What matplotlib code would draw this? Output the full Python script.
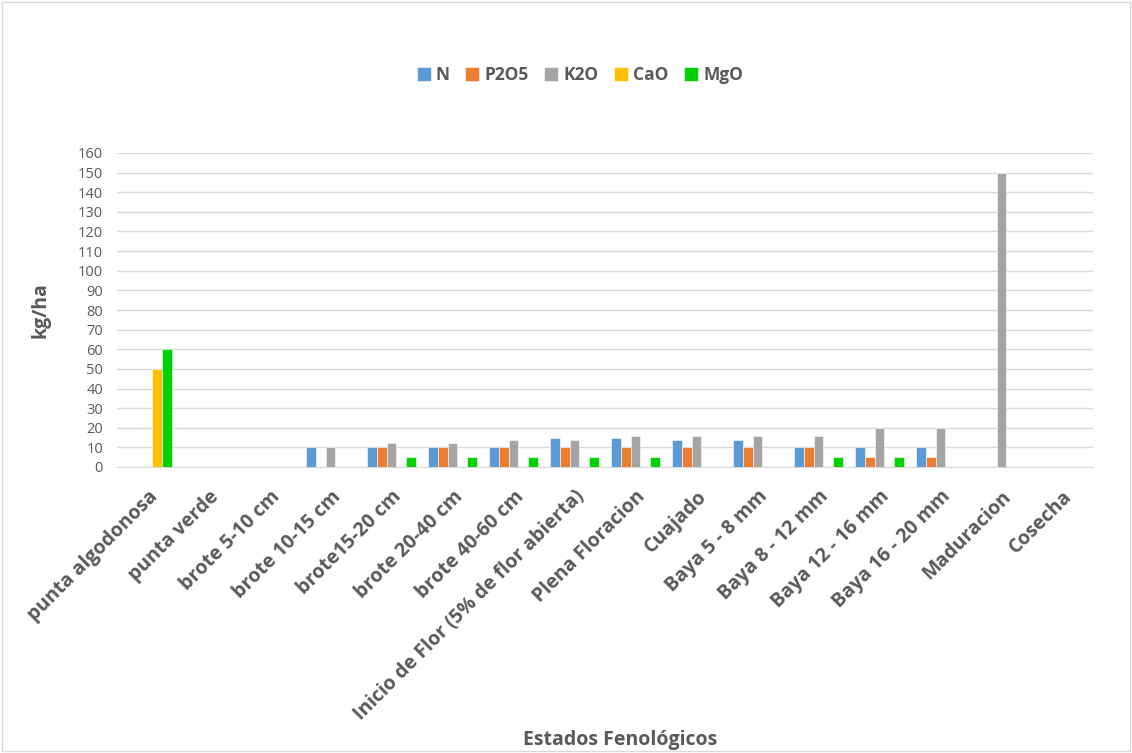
import numpy as np
import matplotlib.pyplot as plt
from matplotlib.patches import Rectangle

### data
categories = ['punta algodonosa', 'punta verde', 'brote 5-10 cm', 'brote 10-15 cm',
              'brote15-20 cm', 'brote 20-40 cm', 'brote 40-60 cm',
              'Inicio de Flor (5% de flor abierta)', 'Plena Floracion', 'Cuajado',
              'Baya 5 - 8 mm', 'Baya 8 - 12 mm', 'Baya 12 - 16 mm', 'Baya 16 - 20 mm',
              'Maduracion', 'Cosecha']
n_vals   = [0, 0, 0, 10, 10, 10, 10, 15, 15, 14, 14, 10, 10, 10, 0, 0]
p2o5_vals = [0, 0, 0, 0, 10, 10, 10, 10, 10, 10, 10, 10, 5, 5, 0, 0]
k2o_vals = [0, 0, 0, 10, 12, 12, 14, 14, 16, 16, 16, 16, 20, 20, 150, 0]
cao_vals = [50, 0, 0, 0, 0, 0, 0, 0, 0, 0, 0, 0, 0, 0, 0, 0]
mgo_vals = [60, 0, 0, 0, 5, 5, 5, 5, 5, 0, 0, 5, 5, 0, 0, 0]

series = [('N', n_vals, '#5b9bd5'),
          ('P2O5', p2o5_vals, '#ed7d31'),
          ('K2O', k2o_vals, '#a5a5a5'),
          ('CaO', cao_vals, '#ffc000'),
          ('MgO', mgo_vals, '#00d200')]

plt.rcParams['font.family'] = ['Open Sans', 'DejaVu Sans']
txtcol = '#595959'

fig = plt.figure(figsize=(11.32, 7.53), dpi=100)
ax = fig.add_axes([117 / 1132, 1 - 467 / 753, (1093 - 117) / 1132, (467 - 153) / 753])

### bars
x = np.arange(len(categories))
w = 0.158
for i, (name, vals, col) in enumerate(series):
    ax.bar(x + (i - 2) * w, vals, w, color=col, label=name,
           edgecolor='white', linewidth=0.4, zorder=3)

ax.set_xlim(-0.5, len(categories) - 0.5)
ax.set_ylim(0, 160)
ax.set_yticks(range(0, 161, 10))
ax.grid(axis='y', color='#d9d9d9', linewidth=1, zorder=0)
for s in ['top', 'right', 'left']:
    ax.spines[s].set_visible(False)
ax.spines['bottom'].set_color('#d9d9d9')
ax.tick_params(axis='both', length=0, colors=txtcol)
ax.tick_params(axis='y', labelsize=10.5, pad=10)
ax.set_xticks(x)
ax.set_xticklabels(categories, rotation=45, ha='right', rotation_mode='anchor',
                   fontsize=14, fontweight='bold', color=txtcol)
ax.tick_params(axis='x', pad=14)

ax.set_ylabel('kg/ha', fontsize=14, fontweight='bold', color=txtcol, labelpad=20)
fig.text(620 / 1132, 1 - 740 / 753, 'Estados Fenológicos', ha='center', va='center',
         fontsize=14, fontweight='bold', color=txtcol)

leg = fig.legend(loc='center', bbox_to_anchor=(580 / 1132, 1 - 75 / 753), ncol=5,
                 frameon=False, fontsize=12.5, handlelength=0.8, handleheight=0.8,
                 handletextpad=0.3, columnspacing=0.9)
for t in leg.get_texts():
    t.set_color(txtcol)
    t.set_fontweight('bold')

### outer border
fig.patches.append(Rectangle((0.002, 0.002), 0.996, 0.996, transform=fig.transFigure,
                             fill=False, edgecolor='#d9d9d9', linewidth=1))

fig.savefig('out.png', dpi=100)
